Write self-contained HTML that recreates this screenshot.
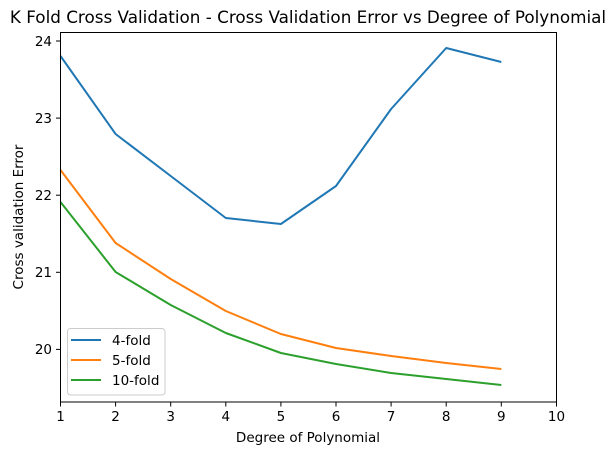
<!DOCTYPE html>
<html><head><style>body{margin:0;background:#fff}svg{display:block}text{font-family:"DejaVu Sans","Liberation Sans",sans-serif}</style></head><body>
<svg width="615" height="455" xmlns="http://www.w3.org/2000/svg">
<rect width="615" height="455" fill="#fff"/>
<text x="308" y="23" font-size="16.8" text-anchor="middle">K Fold Cross Validation - Cross Validation Error vs Degree of Polynomial</text>
<g fill="none" stroke-width="2" stroke-linejoin="round">
<polyline stroke="#1f77b4" points="60.5,56 115.6,134 170.7,176 225.8,218 280.9,224 336,186 391.1,109 446.2,48 501.3,62"/>
<polyline stroke="#ff7f0e" points="60.5,170 115.6,243 170.7,279 225.8,311 280.9,334 336,348 391.1,356 446.2,363 501.3,369"/>
<polyline stroke="#2ca02c" points="60.5,202 115.6,272 170.7,305 225.8,333 280.9,353 336,364 391.1,373 446.2,379 501.3,385"/>
</g>
<rect x="60.5" y="32.5" width="496" height="369.5" fill="none" stroke="#000" stroke-width="1"/>
<g stroke="#000" stroke-width="1">
<line x1="56" x2="60.5" y1="41" y2="41"/><line x1="56" x2="60.5" y1="118.1" y2="118.1"/><line x1="56" x2="60.5" y1="195.2" y2="195.2"/><line x1="56" x2="60.5" y1="272.3" y2="272.3"/><line x1="56" x2="60.5" y1="349.4" y2="349.4"/>
<line x1="60.5" x2="60.5" y1="402" y2="406.5"/><line x1="115.6" x2="115.6" y1="402" y2="406.5"/><line x1="170.7" x2="170.7" y1="402" y2="406.5"/><line x1="225.8" x2="225.8" y1="402" y2="406.5"/><line x1="280.9" x2="280.9" y1="402" y2="406.5"/><line x1="336" x2="336" y1="402" y2="406.5"/><line x1="391.1" x2="391.1" y1="402" y2="406.5"/><line x1="446.2" x2="446.2" y1="402" y2="406.5"/><line x1="501.3" x2="501.3" y1="402" y2="406.5"/><line x1="556.5" x2="556.5" y1="402" y2="406.5"/>
</g>
<g font-size="13.5" text-anchor="end">
<text x="52" y="46">24</text><text x="52" y="123">23</text><text x="52" y="200">22</text><text x="52" y="277">21</text><text x="52" y="354">20</text>
</g>
<g font-size="13.5" text-anchor="middle">
<text x="60.5" y="421">1</text><text x="115.6" y="421">2</text><text x="170.7" y="421">3</text><text x="225.8" y="421">4</text><text x="280.9" y="421">5</text><text x="336" y="421">6</text><text x="391.1" y="421">7</text><text x="446.2" y="421">8</text><text x="501.3" y="421">9</text><text x="556.5" y="421">10</text>
</g>
<text x="308" y="442" font-size="13.5" text-anchor="middle">Degree of Polynomial</text>
<text transform="translate(23,217) rotate(-90)" font-size="13.5" text-anchor="middle">Cross validation Error</text>
<rect x="67.5" y="328.5" width="97.5" height="66.5" rx="3" fill="#fff" fill-opacity="0.8" stroke="#ccc"/>
<line x1="71" x2="101" y1="340" y2="340" stroke="#1f77b4" stroke-width="2"/>
<line x1="71" x2="101" y1="360" y2="360" stroke="#ff7f0e" stroke-width="2"/>
<line x1="71" x2="101" y1="380" y2="380" stroke="#2ca02c" stroke-width="2"/>
<g font-size="13.5"><text x="112" y="345">4-fold</text><text x="112" y="365">5-fold</text><text x="112" y="385">10-fold</text></g>
</svg>
</body></html>
